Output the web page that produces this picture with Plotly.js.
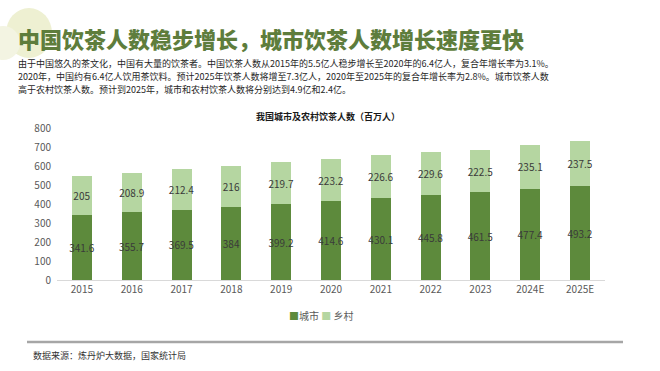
<!DOCTYPE html>
<html>
<head>
<meta charset="utf-8">
<script src="https://cdn.plot.ly/plotly-3.0.1.min.js"></script>
<style>
html,body{margin:0;padding:0;background:#fff;}
#chart{width:660px;height:371px;}
</style>
</head>
<body>
<div id="chart"></div>
<script>
const years = ['2015','2016','2017','2018','2019','2020','2021','2022','2023','2024E','2025E'];
const urban = [341.6, 355.7, 369.5, 384, 399.2, 414.6, 430.1, 445.8, 461.5, 477.4, 493.2];
const rural = [205, 208.9, 212.4, 216, 219.7, 223.2, 226.6, 229.6, 222.5, 235.1, 237.5];
const seriesNames = ['城市', '乡村'];
const mainTitle = '中国饮茶人数稳步增长，城市饮茶人数增长速度更快';
const paragraph = [
  '由于中国悠久的茶文化，中国有大量的饮茶者。中国饮茶人数从2015年的5.5亿人稳步增长至2020年的6.4亿人，复合年增长率为3.1%。',
  '2020年，中国约有6.4亿人饮用茶饮料。预计2025年饮茶人数将增至7.3亿人，2020年至2025年的复合年增长率为2.8%。城市饮茶人数',
  '高于农村饮茶人数。预计到2025年，城市和农村饮茶人数将分别达到4.9亿和2.4亿。'
];
const chartTitle = '我国城市及农村饮茶人数（百万人）';
const sourceText = '数据来源：炼丹炉大数据，国家统计局';

const W = 660, H = 371;
const M = {l: 57, r: 55, t: 128, b: 91};
const PW = W - M.l - M.r, PH = H - M.t - M.b;
const px = x => (x - M.l) / PW;
const py = y => (H - M.b - y) / PH;

const FONT = '"Noto Sans CJK SC", "Noto Sans", sans-serif';
const DARK = '#5d8a3c';
const LIGHT = '#b5d6a1';

const traces = [
  {
    type: 'bar', name: seriesNames[0], x: years, y: urban,
    marker: {color: DARK},
    text: urban.map(String), textposition: 'inside', insidetextanchor: 'middle',
    textangle: 0, constraintext: 'none', cliponaxis: false,
    textfont: {family: FONT, size: 10, color: '#3a3a3a'},
    hoverinfo: 'none'
  },
  {
    type: 'bar', name: seriesNames[1], x: years, y: rural,
    marker: {color: LIGHT},
    text: rural.map(String), textposition: 'inside', insidetextanchor: 'middle',
    textangle: 0, constraintext: 'none', cliponaxis: false,
    textfont: {family: FONT, size: 10, color: '#3a3a3a'},
    hoverinfo: 'none'
  }
];

const legendText = '<span style="color:' + DARK + '">■</span>' + seriesNames[0] +
  ' <span style="color:' + LIGHT + '">■</span> ' + seriesNames[1];

const annotations = [
  {text: chartTitle, xref: 'paper', yref: 'paper', x: px(328), y: py(117),
   xanchor: 'center', yanchor: 'middle', showarrow: false,
   font: {family: FONT, size: 9, color: '#1a1a1a', weight: 700}},
  {text: legendText, xref: 'paper', yref: 'paper', x: px(321), y: py(315),
   xanchor: 'center', yanchor: 'middle', showarrow: false,
   font: {family: FONT, size: 10, color: '#595959'}},
  {text: sourceText, xref: 'paper', yref: 'paper', x: px(31), y: py(355),
   xanchor: 'left', yanchor: 'middle', showarrow: false,
   font: {family: FONT, size: 9, color: '#333333'}}
];
paragraph.forEach((line, i) => {
  annotations.push({text: line, xref: 'paper', yref: 'paper', x: px(16), y: py(63 + i * 13),
    xanchor: 'left', yanchor: 'middle', showarrow: false,
    font: {family: FONT, size: 9, color: '#262626'}});
});

const shapes = [
  {type: 'circle', xref: 'paper', yref: 'paper', x0: px(6), x1: px(52), y0: py(8), y1: py(58),
   fillcolor: '#eef0d2', line: {width: 0}, layer: 'below'},
  {type: 'circle', xref: 'paper', yref: 'paper', x0: px(-14), x1: px(20), y0: py(26), y1: py(60),
   fillcolor: '#f3f4e2', line: {width: 0}, layer: 'below'},
  {type: 'line', xref: 'paper', yref: 'paper', x0: px(27), x1: px(623), y0: py(342), y1: py(342),
   line: {color: '#a6a6a6', width: 2.5}}
];

const layout = {
  width: W, height: H,
  margin: M,
  paper_bgcolor: '#ffffff', plot_bgcolor: '#ffffff',
  font: {family: FONT, color: '#595959'},
  barmode: 'stack', bargap: 0.6,
  title: {text: mainTitle, xref: 'container', yref: 'container', x: 18 / W, y: 1 - 40 / H,
    xanchor: 'left', yanchor: 'middle',
    font: {family: FONT, size: 22, color: '#5e7d3c', weight: 900}},
  xaxis: {
    type: 'category', showgrid: false, zeroline: false,
    showline: true, linecolor: '#d9d9d9', linewidth: 1,
    ticks: '', tickfont: {family: FONT, size: 10, color: '#595959'},
    fixedrange: true
  },
  yaxis: {
    range: [0, 800], dtick: 100, showgrid: false, zeroline: false, showline: false,
    ticks: '', ticklabelstandoff: 5,
    tickfont: {family: FONT, size: 10, color: '#595959'},
    fixedrange: true
  },
  showlegend: false,
  annotations: annotations,
  shapes: shapes
};

Plotly.newPlot('chart', traces, layout, {displayModeBar: false, staticPlot: true});
</script>
</body>
</html>
